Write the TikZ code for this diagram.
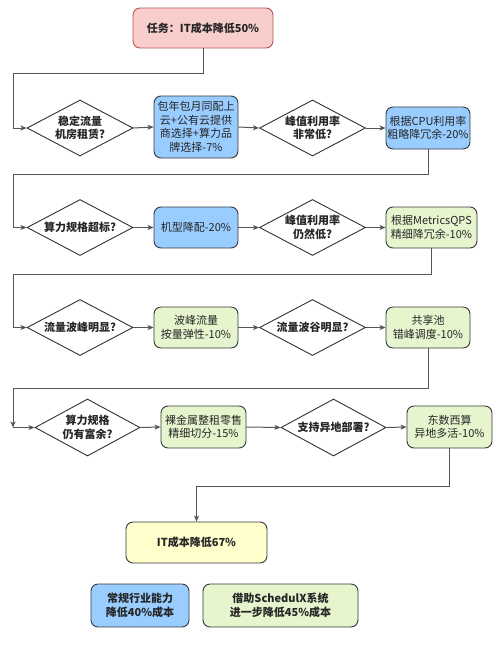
\documentclass[tikz,border=0pt]{standalone}
\usepackage{fontspec}
\setmainfont{Noto Sans CJK SC}
\usetikzlibrary{shapes.geometric,arrows.meta}
\definecolor{pinkf}{HTML}{F8CECC}
\definecolor{pinkd}{HTML}{B85450}
\definecolor{bluef}{HTML}{99CCFF}
\definecolor{greenf}{HTML}{E6F5CE}
\definecolor{yellowf}{HTML}{FFFFCC}
\definecolor{boxd}{HTML}{36393D}
\definecolor{linec}{HTML}{555555}
\tikzset{
  box/.style={rectangle, rounded corners=7pt, draw=boxd, line width=0.9pt, align=center, inner sep=1pt, font=\fontsize{11}{13.5}\selectfont, text=black!85},
  bluebox/.style={box, fill=bluef},
  greenbox/.style={box, fill=greenf},
  dia/.style={diamond, draw=black!80, fill=white, line width=0.9pt, inner sep=0pt, minimum width=106pt, minimum height=56pt, aspect=1.9},
  dlab/.style={font=\bfseries\fontsize{11}{13.5}\selectfont, align=center, text=black!85},
  conn/.style={draw=linec, line width=1pt, -{Stealth[length=6pt,width=5pt,inset=1.5pt]}},
}
\begin{document}
\begin{tikzpicture}[x=1pt,y=-1pt]
\useasboundingbox (0,0) rectangle (500,645);
% top
\node[box, fill=pinkf, draw=pinkd, minimum width=140pt, minimum height=40pt, font=\bfseries\fontsize{11}{13.5}\selectfont] (top) at (203,28) {任务：IT成本降低50\%};
% row 1
\node[dia, label={[dlab]center:稳定流量\\机房租赁?}] (d1) at (80,128) {};
\node[bluebox, minimum width=84pt, minimum height=62pt] (b2) at (196,127) {包年包月同配上\\云+公有云提供\\商选择+算力品\\牌选择-7\%};
\node[dia, label={[dlab]center:峰值利用率\\非常低?}] (d2) at (312.5,128) {};
\node[bluebox, minimum width=84pt, minimum height=42pt] (b3) at (428,128) {根据CPU利用率\\粗略降冗余-20\%};
% row 2
\node[dia, label={[dlab]center:算力规格超标?}] (d3) at (80,227.5) {};
\node[bluebox, minimum width=84pt, minimum height=41pt] (b4) at (196,227.5) {机型降配-20\%};
\node[dia, label={[dlab]center:峰值利用率\\仍然低?}] (d4) at (312.5,227.5) {};
\node[greenbox, minimum width=91pt, minimum height=41pt] (b5) at (431.5,227.5) {根据MetricsQPS\\精细降冗余-10\%};
% row 3
\node[dia, label={[dlab]center:流量波峰明显?}] (d5) at (80,327.5) {};
\node[greenbox, minimum width=84pt, minimum height=41pt] (b6) at (196,327.5) {波峰流量\\按量弹性-10\%};
\node[dia, label={[dlab]center:流量波谷明显?}] (d6) at (312.5,327.5) {};
\node[greenbox, minimum width=84pt, minimum height=41pt] (b7) at (428,327.5) {共享池\\错峰调度-10\%};
% row 4
\node[dia, minimum width=105pt, minimum height=57pt, label={[dlab]center:算力规格\\仍有富余?}] (d7) at (87.5,427.5) {};
\node[greenbox, minimum width=85pt, minimum height=42pt] (b8) at (203.5,427) {裸金属整租零售\\精细切分-15\%};
\node[dia, minimum width=105pt, minimum height=57pt, label={[dlab]center:支持异地部署?}] (d8) at (333.5,427.5) {};
\node[greenbox, minimum width=85pt, minimum height=42pt] (b9) at (449.5,427) {东数西算\\异地多活-10\%};
% result
\node[box, fill=yellowf, minimum width=141pt, minimum height=41pt, font=\bfseries\fontsize{11}{13.5}\selectfont] (fin) at (196.5,542.5) {IT成本降低67\%};
% legend
\node[bluebox, minimum width=98pt, minimum height=43pt, font=\bfseries\fontsize{11}{13.5}\selectfont] (l1) at (140,605.5) {常规行业能力\\降低40\%成本};
\node[greenbox, minimum width=155pt, minimum height=43pt, font=\bfseries\fontsize{11}{13.5}\selectfont] (l2) at (280.5,605.5) {借助SchedulX系统\\进一步降低45\%成本};
% helper coordinates
\coordinate (c1a) at (203,73);
\coordinate (c1b) at (13,73);
\coordinate (c1c) at (13,128);
\coordinate (c2a) at (428,174);
\coordinate (c2b) at (13,174);
\coordinate (c2c) at (13,227.5);
\coordinate (c3a) at (431.5,274);
\coordinate (c3b) at (13,274);
\coordinate (c3c) at (13,327.5);
\coordinate (c4a) at (428,388);
\coordinate (c4b) at (13,388);
\coordinate (c4c) at (13,427.5);
\coordinate (c5a) at (449.5,486);
\coordinate (c5b) at (196.5,486);
% connectors
\draw[conn] (top.south) -- (c1a) -- (c1b) -- (c1c) -- (d1.west);
\draw[conn] (d1.east) -- (b2.west);
\draw[conn] (b2.east) -- (d2.west);
\draw[conn] (d2.east) -- (b3.west);
\draw[conn] (b3.south) -- (c2a) -- (c2b) -- (c2c) -- (d3.west);
\draw[conn] (d3.east) -- (b4.west);
\draw[conn] (b4.east) -- (d4.west);
\draw[conn] (d4.east) -- (b5.west);
\draw[conn] (b5.south) -- (c3a) -- (c3b) -- (c3c) -- (d5.west);
\draw[conn] (d5.east) -- (b6.west);
\draw[conn] (b6.east) -- (d6.west);
\draw[conn] (d6.east) -- (b7.west);
\draw[conn] (b7.south) -- (c4a) -- (c4b) -- (c4c);
\draw[conn] (c4c) -- (d7.west);
\draw[conn] (d7.east) -- (b8.west);
\draw[conn] (b8.east) -- (d8.west);
\draw[conn] (d8.east) -- (b9.west);
\draw[conn] (b9.south) -- (c5a) -- (c5b) -- (fin.north);
\end{tikzpicture}
\end{document}
